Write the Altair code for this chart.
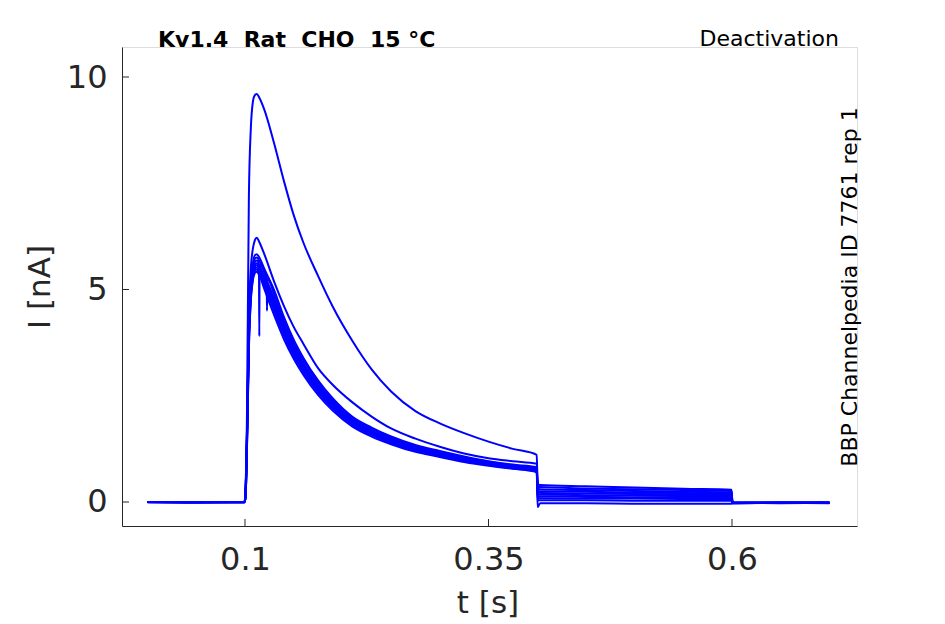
import altair as alt
import pandas as pd

# time grid (s)
T = [0.0, 0.05, 0.0995,
     0.1005, 0.102, 0.104, 0.106, 0.108, 0.110,
     0.112, 0.115, 0.12, 0.13, 0.14, 0.15, 0.16, 0.175, 0.19, 0.21, 0.23, 0.25,
     0.275, 0.30, 0.325, 0.35, 0.375, 0.3995,
     0.4005, 0.403, 0.45, 0.50, 0.55, 0.5995,
     0.6005, 0.65, 0.70]

# current traces (nA)
TR0 = [0.0, -0.01, 0.0,
       0.3, 2.0, 7.2, 8.8, 9.4, 9.57,
       9.6, 9.5, 9.22, 8.43, 7.55, 6.75, 6.1, 5.32, 4.6, 3.8, 3.12, 2.6, 2.14, 1.85, 1.62, 1.42, 1.25, 1.11,
       0.41, 0.40, 0.37, 0.34, 0.31, 0.29,
       -0.02, -0.02, -0.02]
TR1 = [0.0, 0.0, -0.01,
       0.2, 1.6, 4.4, 5.5, 5.95, 6.15,
       6.22, 6.1, 5.82, 5.18, 4.61, 4.12, 3.72, 3.15, 2.76, 2.35, 2.01, 1.73, 1.49, 1.30, 1.14, 1.03, 0.96, 0.90,
       0.36, 0.35, 0.32, 0.30, 0.28, 0.26,
       -0.02, -0.01, -0.02]
TRA = [0.0, -0.01, 0.0,
       0.2, 1.6, 4.2, 5.2, 5.6, 5.8,
       5.83, 5.74, 5.48, 4.98, 4.35, 3.82, 3.39, 2.86, 2.44, 2.01, 1.75, 1.54, 1.34, 1.20, 1.07, 0.96, 0.88, 0.82,
       0.31, 0.30, 0.28, 0.26, 0.24, 0.23,
       -0.02, -0.02, -0.01]
TRB = [0.0, 0.0, 0.0,
       0.2, 1.5, 4.1, 5.1, 5.5, 5.72,
       5.75, 5.66, 5.40, 4.89, 4.26, 3.74, 3.33, 2.81, 2.39, 1.98, 1.72, 1.51, 1.31, 1.18, 1.05, 0.95, 0.86, 0.80,
       0.26, 0.25, 0.24, 0.22, 0.21, 0.20,
       -0.03, -0.02, -0.02]
TRC = [-0.01, 0.0, 0.0,
       0.2, 1.5, 4.0, 5.0, 5.45, 5.64,
       5.68, 5.58, 5.33, 4.79, 4.18, 3.67, 3.26, 2.75, 2.35, 1.94, 1.68, 1.48, 1.29, 1.15, 1.03, 0.93, 0.85, 0.79,
       0.22, 0.21, 0.20, 0.19, 0.18, 0.17,
       -0.02, -0.03, -0.02]
TRD = [0.0, 0.0, -0.01,
       0.1, 1.4, 3.9, 4.95, 5.4, 5.58,
       5.62, 5.52, 5.27, 4.72, 4.12, 3.62, 3.22, 2.71, 2.31, 1.91, 1.66, 1.46, 1.27, 1.14, 1.02, 0.91, 0.83, 0.77,
       0.17, 0.17, 0.16, 0.15, 0.14, 0.14,
       -0.02, -0.02, -0.02]
TRE = [0.0, -0.01, 0.0,
       0.1, 1.4, 3.9, 4.9, 5.35, 5.53,
       5.57, 5.47, 5.21, 4.65, 4.06, 3.56, 3.17, 2.67, 2.28, 1.88, 1.63, 1.44, 1.25, 1.12, 1.00, 0.90, 0.82, 0.76,
       0.13, 0.13, 0.12, 0.11, 0.11, 0.10,
       -0.03, -0.02, -0.02]
TRF = [0.0, 0.0, 0.0,
       0.1, 1.3, 3.8, 4.85, 5.3, 5.48,
       5.52, 5.42, 5.15, 4.58, 4.00, 3.51, 3.12, 2.63, 2.24, 1.85, 1.61, 1.41, 1.23, 1.10, 0.98, 0.89, 0.81, 0.75,
       0.09, 0.09, 0.08, 0.08, 0.07, 0.07,
       -0.02, -0.02, -0.03]
TRG = [0.0, 0.0, 0.0,
       0.1, 1.3, 3.7, 4.8, 5.25, 5.43,
       5.47, 5.37, 5.08, 4.49, 3.92, 3.44, 3.06, 2.58, 2.20, 1.81, 1.58, 1.38, 1.20, 1.08, 0.96, 0.87, 0.79, 0.73,
       0.04, 0.04, 0.04, 0.03, 0.03, 0.03,
       -0.02, -0.02, -0.02]
TRH = [0.0, -0.01, 0.0,
       0.1, 1.2, 3.6, 4.75, 5.2, 5.38,
       5.42, 5.32, 5.00, 4.39, 3.83, 3.37, 2.99, 2.52, 2.15, 1.78, 1.54, 1.36, 1.18, 1.06, 0.94, 0.85, 0.78, 0.70,
       -0.12, -0.03, -0.03, -0.04, -0.04, -0.04,
       -0.03, -0.02, -0.02]

TRACES = {"tr0": TR0, "tr1": TR1, "trA": TRA, "trB": TRB, "trC": TRC,
          "trD": TRD, "trE": TRE, "trF": TRF, "trG": TRG, "trH": TRH}

# brief artefact spikes on two traces
SPIKE_B_T = [0.1222, 0.1226, 0.1230]
SPIKE_B_I = [5.29, 4.50, 5.25]
SPIKE_C_T = [0.1143, 0.1147, 0.1151]
SPIKE_C_I = [5.60, 3.90, 5.57]

X_TICKS = [0.1, 0.35, 0.6]
Y_TICKS = [0, 5, 10]

rows = []
for name, vals in TRACES.items():
    for t, v in zip(T, vals):
        rows.append({"t": t, "i": v, "trace": name})
for t, v in zip(SPIKE_B_T, SPIKE_B_I):
    rows.append({"t": t, "i": v, "trace": "trB"})
for t, v in zip(SPIKE_C_T, SPIKE_C_I):
    rows.append({"t": t, "i": v, "trace": "trC"})
df = pd.DataFrame(rows).sort_values(["trace", "t"]).reset_index(drop=True)
df["k"] = range(len(df))

W, H = 735, 479
FONT = "DejaVu Sans"
GREY = "#262626"

xscale = alt.Scale(domain=[-0.02628, 0.72834], nice=False, zero=False)
yscale = alt.Scale(domain=[-0.565, 10.706], nice=False, zero=False)

lines = alt.Chart(df).mark_line(color="#0000ff", strokeWidth=2, interpolate="monotone").encode(
    x=alt.X("t:Q", scale=xscale,
            axis=alt.Axis(values=X_TICKS, format=".2~f", title="t [s]", grid=False,
                          ticks=False, tickSize=0, labelPadding=18,
                          labelFontSize=32, labelFont=FONT, labelColor=GREY,
                          titleFont=FONT, titleFontSize=31, titleFontWeight="normal",
                          titleColor=GREY, titleBaseline="alphabetic",
                          titleX=W / 2 - 2, titleY=86.5,
                          domainColor=GREY, domainWidth=1)),
    y=alt.Y("i:Q", scale=yscale,
            axis=alt.Axis(values=Y_TICKS, format="d", title="I [nA]", grid=False,
                          ticks=False, tickSize=0, labelPadding=15,
                          labelFontSize=32, labelFont=FONT, labelColor=GREY,
                          titleFont=FONT, titleFontSize=31, titleFontWeight="normal",
                          titleColor=GREY, titleAngle=270, titleBaseline="alphabetic",
                          titleAlign="center", titleX=-73, titleY=H / 2,
                          domainColor=GREY, domainWidth=1)),
    detail="trace:N",
    order="k:Q",
)

xt = alt.Chart(pd.DataFrame({"t": X_TICKS})).mark_rule(color=GREY, strokeWidth=1).encode(
    x=alt.X("t:Q", scale=xscale), y=alt.value(H), y2=alt.value(H - 7))
yt = alt.Chart(pd.DataFrame({"i": Y_TICKS})).mark_rule(color=GREY, strokeWidth=1).encode(
    y=alt.Y("i:Q", scale=yscale), x=alt.value(0), x2=alt.value(7))

title = alt.Chart(pd.DataFrame({"s": ["Kv1.4\u00a0\u00a0Rat\u00a0\u00a0CHO\u00a0\u00a015\u00a0°C"]})).mark_text(
    font=FONT, fontSize=22, fontWeight="bold", color="#000000", align="left",
    baseline="alphabetic").encode(text="s:N", x=alt.value(36), y=alt.value(-0.5))
proto = alt.Chart(pd.DataFrame({"s": ["Deactivation"]})).mark_text(
    font=FONT, fontSize=22, color="#000000", align="right",
    baseline="alphabetic").encode(text="s:N", x=alt.value(717), y=alt.value(-1))
side = alt.Chart(pd.DataFrame({"s": ["BBP Channelpedia ID 7761 rep 1"]})).mark_text(
    font=FONT, fontSize=22, color="#000000", align="center", angle=270,
    baseline="alphabetic").encode(text="s:N", x=alt.value(735), y=alt.value(240))

chart = alt.layer(lines, xt, yt, title, proto, side).properties(
    width=W, height=H,
    autosize=alt.AutoSizeParams(type="none"),
    padding={"left": 114, "top": 39, "right": 60, "bottom": 100},
).configure_view(stroke=None).configure(background="white")

chart.save("out.html", embed_options={"renderer": "svg", "actions": False})
